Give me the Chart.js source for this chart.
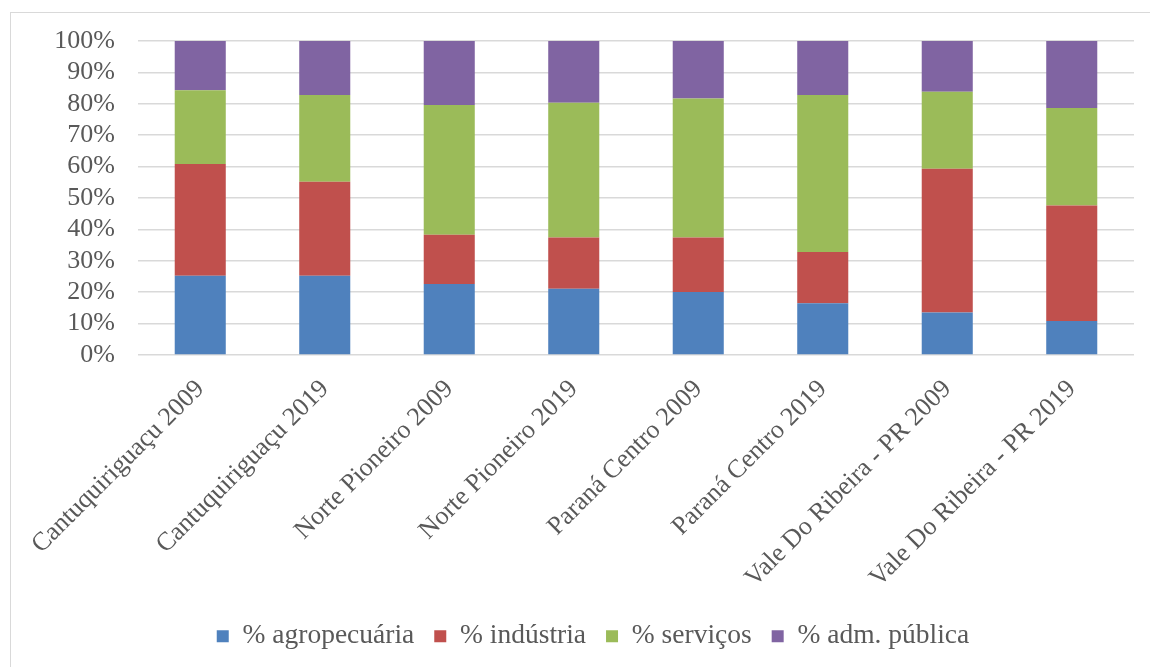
<!DOCTYPE html>
<html>
<head>
<meta charset="utf-8">
<script src="https://cdn.jsdelivr.net/npm/chart.js@4"></script>
<style>
  html, body { margin: 0; padding: 0; background: #ffffff; }
  body { width: 1150px; height: 667px; position: relative; overflow: hidden; }
  #frame { position: absolute; left: 10px; top: 12px; width: 1150px; height: 700px; border: 1.5px solid #D9D9D9; box-sizing: border-box; }
  #c { position: absolute; left: 0; top: 0; }
</style>
</head>
<body>
<div id="frame"></div>
<canvas id="c" width="1150" height="667"></canvas>
<script>
const categories = [
  "Cantuquiriguaçu 2009",
  "Cantuquiriguaçu 2019",
  "Norte Pioneiro 2009",
  "Norte Pioneiro 2019",
  "Paraná Centro 2009",
  "Paraná Centro 2019",
  "Vale Do Ribeira - PR 2009",
  "Vale Do Ribeira - PR 2019"
];
const agropecuaria = [25.2, 25.2, 22.6, 21.1, 20.1, 16.5, 13.5, 10.8];
const industria    = [35.6, 30.0, 15.7, 16.3, 17.3, 16.3, 45.8, 36.8];
const servicos     = [23.5, 27.6, 41.3, 42.9, 44.3, 50.0, 24.5, 31.1];
const admPublica   = [15.7, 17.2, 20.4, 19.7, 18.3, 17.2, 16.2, 21.3];
const seriesNames = ["% agropecuária", "% indústria", "% serviços", "% adm. pública"];
const yTickValues = [0, 10, 20, 30, 40, 50, 60, 70, 80, 90, 100];

const colors = ["#4F81BD", "#C0504D", "#9BBB59", "#8064A2"];
const seriesData = [agropecuaria, industria, servicos, admPublica];
const FONT = "'Liberation Serif', 'Times New Roman', serif";
const TXT = "#595959";

const datasets = seriesNames.map((name, i) => ({
  label: name,
  data: seriesData[i],
  backgroundColor: colors[i],
  borderWidth: 0,
  barPercentage: 0.41,
  categoryPercentage: 1.0
}));

const legendShift = {
  id: 'legendShift',
  afterLayout(chart) {
    if (chart.legend) { chart.legend.left += 26; chart.legend.right += 26; }
  }
};

new Chart(document.getElementById('c'), {
  type: 'bar',
  data: { labels: categories, datasets },
  plugins: [legendShift],
  options: {
    responsive: false,
    animation: false,
    layout: { padding: { left: 0, right: 16, top: 41, bottom: 7 } },
    plugins: {
      tooltip: { enabled: false },
      legend: {
        position: 'bottom',
        labels: {
          boxWidth: 12, boxHeight: 12, padding: 20,
          color: TXT,
          font: { family: FONT, size: 27.5 }
        }
      }
    },
    scales: {
      x: {
        stacked: true,
        grid: { display: false, drawTicks: false },
        border: { display: false },
        ticks: {
          autoSkip: false, maxRotation: 45, minRotation: 45, padding: 19,
          color: TXT, font: { family: FONT, size: 26 }
        },
        afterFit: (s) => { s.height = 247.5; }
      },
      y: {
        stacked: true,
        min: 0, max: 100,
        afterBuildTicks: (s) => { s.ticks = yTickValues.map(v => ({ value: v })); },
        grid: { color: "#D9D9D9", lineWidth: 1.5, drawTicks: false },
        border: { display: false },
        ticks: {
          autoSkip: false, padding: 23,
          color: TXT, font: { family: FONT, size: 26 },
          callback: (v) => v + "%"
        },
        afterFit: (s) => { s.width = 138; }
      }
    }
  }
});
</script>
</body>
</html>
